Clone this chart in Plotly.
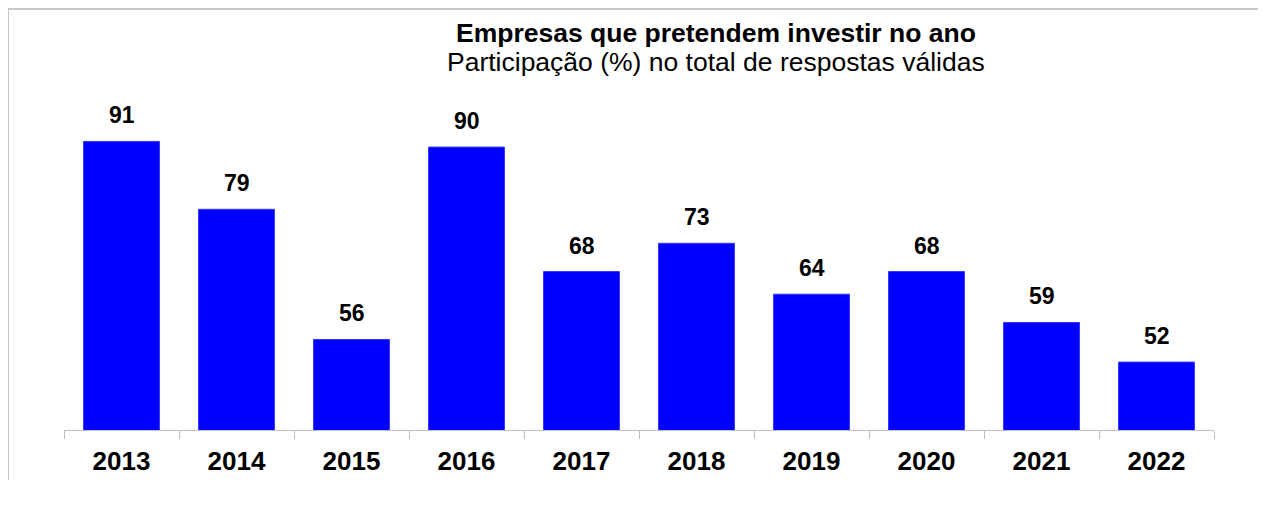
import plotly.graph_objects as go

anos = ['2013', '2014', '2015', '2016', '2017', '2018', '2019', '2020', '2021', '2022']
participacao = [91, 79, 56, 90, 68, 73, 64, 68, 59, 52]

titulo = '<b>Empresas que pretendem investir no ano</b>'
subtitulo = 'Participação (%) no total de respostas válidas'

fig = go.Figure(go.Bar(
    x=anos,
    y=participacao,
    marker=dict(color='#0000ff', line=dict(color='#3333ff', width=1)),
    width=0.66,
    hoverinfo='x+y',
))

# value labels above each bar (x given as category index)
for i, v in enumerate(participacao):
    fig.add_annotation(x=i, y=v, text=f'<b>{v}</b>', showarrow=False,
                       yanchor='bottom', yshift=11,
                       font=dict(family='Arial', size=23, color='black'))

# light grey frame (top and left edges)
frame = dict(type='line', xref='paper', yref='paper',
             line=dict(color='#c8c8c8', width=2))
fig.add_shape(**frame, x0=-0.0487, x1=1.1, y0=1.324, y1=1.324)
fig.add_shape(**frame, x0=-0.0487, x1=-0.0487, y0=1.324, y1=-0.157)

fig.add_annotation(text=titulo, xref='paper', yref='paper',
                   x=0.567, y=1.248, xanchor='center', yanchor='middle',
                   showarrow=False, font=dict(family='Arial', size=26.5, color='black'))
fig.add_annotation(text=subtitulo, xref='paper', yref='paper',
                   x=0.567, y=1.157, xanchor='center', yanchor='middle',
                   showarrow=False, font=dict(family='Arial', size=26.5, color='black'))

fig.update_layout(
    width=1266, height=506,
    margin=dict(l=56, r=60, t=104, b=84),
    plot_bgcolor='white',
    paper_bgcolor='white',
    showlegend=False,
    font=dict(family='Arial', size=22, color='black'),
    xaxis=dict(
        type='category', tickangle=0,
        showline=True, linecolor='#bfbfbf', linewidth=1,
        ticks='outside', tickson='boundaries', ticklen=8,
        tickcolor='#bfbfbf', ticklabelstandoff=8,
        tickfont=dict(family='Arial', size=26, color='black'),
        tickprefix='<b>', ticksuffix='</b>',
    ),
    yaxis=dict(range=[40, 96.2], visible=False),
)

fig.write_html('out.html')
